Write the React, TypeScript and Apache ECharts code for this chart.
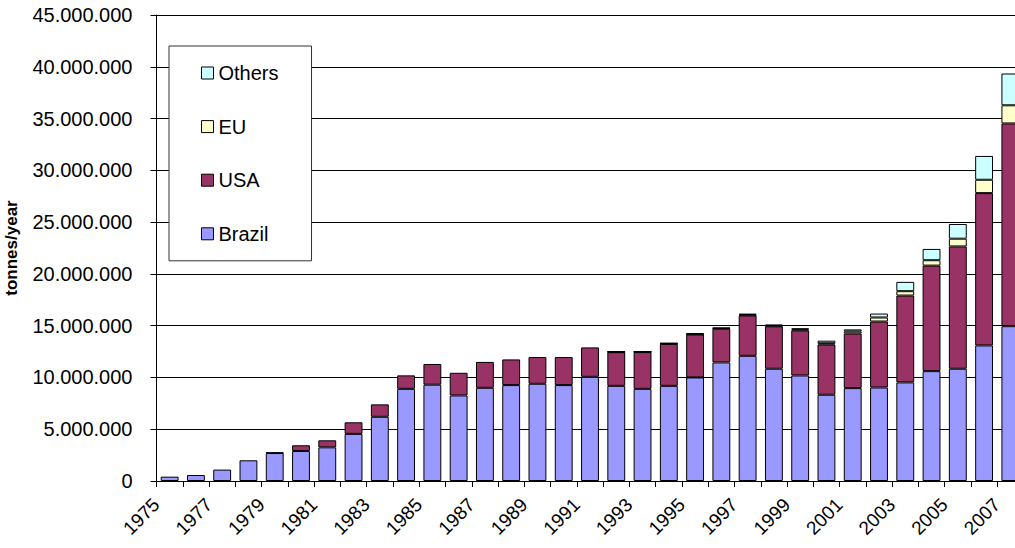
import React, { useEffect, useRef } from "react";
import * as echarts from "echarts";

const years = [
  "1975","1976","1977","1978","1979","1980","1981","1982","1983","1984",
  "1985","1986","1987","1988","1989","1990","1991","1992","1993","1994",
  "1995","1996","1997","1998","1999","2000","2001","2002","2003","2004",
  "2005","2006","2007",
];

const brazil = [
  420000, 580000, 1100000, 2000000, 2700000, 2900000, 3250000, 4550000, 6200000, 8900000,
  9300000, 8260000, 9000000, 9260000, 9390000, 9260000, 10060000, 9190000, 8900000, 9190000,
  10000000, 11450000, 12090000, 10840000, 10190000, 8330000, 8970000, 9030000, 9520000, 10610000,
  10840000, 13090000, 14950000,
];

const usa = [
  0, 0, 0, 0, 50000, 550000, 680000, 1120000, 1200000, 1300000,
  2000000, 2190000, 2500000, 2480000, 2580000, 2710000, 2840000, 3250000, 3550000, 4050000,
  4150000, 3250000, 3900000, 4100000, 4350000, 4850000, 5270000, 6370000, 8390000, 10190000,
  11810000, 14710000, 19580000,
];

const eu = [
  0, 0, 0, 0, 0, 0, 0, 0, 0, 0,
  0, 0, 0, 0, 0, 0, 0, 30000, 30000, 40000,
  50000, 50000, 70000, 70000, 100000, 120000, 200000, 390000, 420000, 520000,
  750000, 1290000, 1750000,
];

const others = [
  0, 0, 0, 0, 0, 0, 0, 0, 0, 0,
  0, 0, 0, 0, 0, 0, 0, 30000, 30000, 40000,
  50000, 50000, 80000, 80000, 100000, 250000, 200000, 380000, 900000, 1090000,
  1420000, 2300000, 3070000,
];

const yTicks = { min: 0, max: 45000000, interval: 5000000 };

const FONT = "'Liberation Sans', Arial, sans-serif";

function fmt(v: number): string {
  return String(Math.round(v)).replace(/\B(?=(\d{3})+(?!\d))/g, ".");
}

export default function App() {
  const ref = useRef<HTMLDivElement>(null);
  useEffect(() => {
    if (!ref.current) return;
    const chart = echarts.init(ref.current, null, { renderer: "svg" });
    const mk = (name: string, data: number[], color: string) => ({
      name,
      type: "bar",
      stack: "total",
      barWidth: "68%",
      data: data.map((v) => (v === 0 ? null : v)),
      itemStyle: { color, borderColor: "#000", borderWidth: 1 },
    });
    chart.setOption({
      animation: false,
      backgroundColor: "#fff",
      textStyle: { fontFamily: FONT },
      grid: {
        left: 156.5,
        top: 15,
        height: 466,
        width: 867,
        containLabel: false,
        outerBoundsMode: "none",
      },
      legend: {
        orient: "vertical",
        left: 169,
        top: 46,
        data: ["Others", "EU", "USA", "Brazil"],
        backgroundColor: "#fff",
        borderColor: "#333",
        borderWidth: 1,
        padding: [17, 33, 17, 32],
        itemWidth: 12,
        itemHeight: 12,
        itemGap: 33.6,
        icon: "rect",
        itemStyle: { borderColor: "#000", borderWidth: 1 },
        textStyle: { fontFamily: FONT, fontSize: 20, lineHeight: 20, color: "#000" },
      },
      xAxis: {
        type: "category",
        data: years,
        boundaryGap: true,
        axisLine: { lineStyle: { color: "#000", width: 1 } },
        axisTick: { show: true, interval: 0, length: 6, lineStyle: { color: "#000" } },
        axisLabel: {
          interval: 1,
          rotate: 45,
          margin: 7,
          padding: [0, 19, 0, 0],
          fontSize: 19,
          color: "#000",
          fontFamily: FONT,
        },
        splitLine: { show: false },
      },
      yAxis: {
        type: "value",
        min: yTicks.min,
        max: yTicks.max,
        interval: yTicks.interval,
        name: "tonnes/year",
        nameLocation: "middle",
        nameRotate: 90,
        nameGap: 137,
        nameMoveOverlap: false,
        nameTextStyle: { fontFamily: FONT, fontSize: 17, fontWeight: "bold", color: "#000" },
        axisLine: { show: true, lineStyle: { color: "#000", width: 1 } },
        axisTick: { show: true, length: 6, lineStyle: { color: "#000" } },
        axisLabel: {
          margin: 24,
          fontSize: 20,
          color: "#000",
          fontFamily: FONT,
          formatter: (v: number) => fmt(v),
        },
        splitLine: { show: true, lineStyle: { color: "#000", width: 1 } },
      },
      series: [
        mk("Brazil", brazil, "#9999FF"),
        mk("USA", usa, "#993366"),
        mk("EU", eu, "#FFFFCC"),
        mk("Others", others, "#CCFFFF"),
      ],
    });
    return () => chart.dispose();
  }, []);
  return (
    <div
      ref={ref}
      style={{ position: "fixed", left: 0, top: 0, width: 1015, height: 548, background: "#fff" }}
    />
  );
}
